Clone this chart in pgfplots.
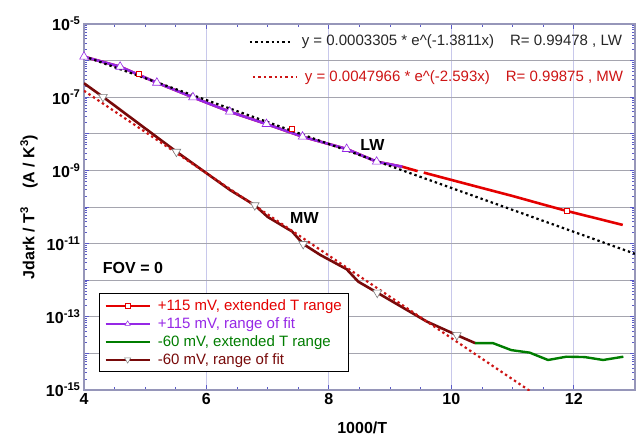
\documentclass[border=0pt]{standalone}
\usepackage{fontspec}
\setmainfont{Liberation Sans}
\usepackage{pgfplots}
\pgfplotsset{compat=1.18}

\definecolor{cred}{RGB}{228,0,0}
\definecolor{cpurple}{RGB}{150,40,230}
\definecolor{cgreen}{RGB}{0,125,0}
\definecolor{cmaroon}{RGB}{120,10,10}
\definecolor{cfitred}{RGB}{205,20,20}
\definecolor{cgridx}{RGB}{200,200,235}
\definecolor{cgridy}{RGB}{165,165,175}
\definecolor{ctick}{RGB}{90,90,200}
\definecolor{cframe}{RGB}{150,150,185}

% +115 mV, full temperature range (line)
\pgfplotstableread{
x y
4.00 1.28e-6
4.59 6.81e-7
5.19 2.49e-7
5.78 9.93e-8
6.38 4.02e-8
6.98 1.85e-8
7.57 8.34e-9
8.29 3.85e-9
8.78 1.73e-9
9.20 1.26e-9
9.45 9.55e-10
}\redA
\pgfplotstableread{
x y
9.55 8.71e-10
10.0 5.50e-10
10.5 3.31e-10
11.0 2.00e-10
11.5 1.17e-10
11.89 7.76e-11
12.3 5.25e-11
12.8 3.24e-11
}\redB
\pgfplotstableread{
x y
4.89 4.27e-7
7.40 1.35e-8
11.89 7.76e-11
}\redmarks
% +115 mV, range of fit
\pgfplotstableread{
x y
4.00 1.28e-6
4.59 6.81e-7
5.19 2.49e-7
5.78 9.93e-8
6.38 4.02e-8
6.98 1.85e-8
7.57 8.34e-9
8.29 3.85e-9
8.78 1.73e-9
9.20 1.26e-9
}\purple
\pgfplotstableread{
x y
4.00 1.28e-6
4.59 6.81e-7
5.19 2.49e-7
5.78 9.93e-8
6.38 4.02e-8
6.98 1.85e-8
7.57 8.34e-9
8.29 3.85e-9
8.78 1.73e-9
}\purplemarks
% -60 mV, range of fit
\pgfplotstableread{
x y
4.00 2.40e-7
4.31 1.02e-7
5.51 3.24e-9
6.39 2.88e-10
6.79 1.12e-10
7.00 5.37e-11
7.40 2.14e-11
7.58 9.77e-12
7.86 4.90e-12
8.29 2.00e-12
8.48 9.12e-13
8.79 4.57e-13
9.60 7.41e-14
10.09 3.16e-14
10.39 1.91e-14
}\maroon
\pgfplotstableread{
x y
4.31 1.02e-7
5.51 3.24e-9
6.79 1.12e-10
7.58 9.77e-12
8.79 4.57e-13
10.09 3.16e-14
}\maroonmarks
% -60 mV, extended T range
\pgfplotstableread{
x y
10.39 1.91e-14
10.68 1.91e-14
10.98 1.23e-14
11.28 1.05e-14
11.58 6.61e-15
11.88 8.13e-15
12.18 7.94e-15
12.48 6.61e-15
12.81 8.13e-15
}\green

\begin{document}
\begin{tikzpicture}
\path[use as bounding box] (-84pt,-50pt) rectangle (557pt,390pt);
\begin{axis}[
  scale only axis, width=551pt, height=366pt,
  at={(0,0)}, anchor=south west,
  xmin=4, xmax=13,
  ymode=log, ymin=1e-15, ymax=1e-5,
  xtick={4,6,8,10,12},
  xticklabels={\textbf{4},\textbf{6},\textbf{8},\textbf{10},\textbf{12}},
  minor x tick num=3,
  ytick={1e-15,1e-14,1e-13,1e-12,1e-11,1e-10,1e-9,1e-8,1e-7,1e-6,1e-5},
  yticklabels={\textbf{10\textsuperscript{-15}},,\textbf{10\textsuperscript{-13}},,\textbf{10\textsuperscript{-11}},,\textbf{10\textsuperscript{-9}},,\textbf{10\textsuperscript{-7}},,\textbf{10\textsuperscript{-5}}},
  minor ytick={2e-15,3e-15,4e-15,5e-15,6e-15,7e-15,8e-15,9e-15,
    2e-14,3e-14,4e-14,5e-14,6e-14,7e-14,8e-14,9e-14,
    2e-13,3e-13,4e-13,5e-13,6e-13,7e-13,8e-13,9e-13,
    2e-12,3e-12,4e-12,5e-12,6e-12,7e-12,8e-12,9e-12,
    2e-11,3e-11,4e-11,5e-11,6e-11,7e-11,8e-11,9e-11,
    2e-10,3e-10,4e-10,5e-10,6e-10,7e-10,8e-10,9e-10,
    2e-9,3e-9,4e-9,5e-9,6e-9,7e-9,8e-9,9e-9,
    2e-8,3e-8,4e-8,5e-8,6e-8,7e-8,8e-8,9e-8,
    2e-7,3e-7,4e-7,5e-7,6e-7,7e-7,8e-7,9e-7,
    2e-6,3e-6,4e-6,5e-6,6e-6,7e-6,8e-6,9e-6},
  ticklabel style={font=\fontsize{16}{18}\selectfont},
  tick align=inside,
  major tick length=5pt, minor tick length=3pt,
  every tick/.style={ctick, line width=0.8pt},
  xmajorgrids, ymajorgrids,
  major x grid style={cgridx, line width=0.8pt},
  major y grid style={cgridy, line width=0.8pt},
  axis line style={cframe, line width=1.2pt},
  xlabel={\textbf{1000/T}},
  ylabel={\textbf{Jdark / T\textsuperscript{3}\hspace{18pt}(A / K\textsuperscript{3})}},
  every axis x label/.style={at={(axis description cs:0.505,-0.104)}, anchor=center,
    font=\fontsize{16}{18}\selectfont},
  every axis y label/.style={at={(axis description cs:-0.1,0.5)}, anchor=center, rotate=90,
    font=\fontsize{16}{18}\selectfont},
  legend style={at={(axis description cs:0.027,0.265)}, anchor=north west,
    draw=black, line width=1.2pt, fill=white,
    font=\fontsize{15}{17}\selectfont, row sep=1.6pt, inner xsep=5pt, inner ysep=4pt},
  legend cell align=left,
  legend image code/.code={\draw[#1, mark repeat=2, mark phase=2] plot coordinates {(0pt,0pt)(22pt,0pt)(44pt,0pt)};
    \path (49pt,0pt);},
]
% measured curves
\addplot[cred, line width=2.6pt, forget plot] table {\redA};
\addplot[cred, line width=2.6pt, forget plot] table {\redB};
\addplot[cpurple, line width=2.6pt, forget plot] table {\purple};
\addplot[cmaroon, line width=2.6pt, forget plot] table {\maroon};
\addplot[cgreen, line width=2.4pt, forget plot] table {\green};

% exponential fits
\addplot[black, line width=2.2pt, dash pattern=on 2.4pt off 3pt, forget plot] coordinates {(4,1.318e-6) (13,5.27e-12)};
\addplot[cfitred, line width=2.2pt, dash pattern=on 2.4pt off 3pt, forget plot] coordinates {(4,1.501e-7) (11.5,5.378e-16)};

% markers
\addplot[only marks, mark=square*, mark size=2.6pt, mark options={fill=white, draw=cred, line width=0.6pt}, forget plot] table {\redmarks};
\addplot[only marks, mark=triangle*, mark size=5pt, mark options={fill=white, draw=cpurple, line width=0.6pt}, forget plot] table {\purplemarks};
\addplot[only marks, mark=triangle*, mark size=5pt, mark options={fill=white, draw=gray, line width=0.6pt, rotate=180}, forget plot] table {\maroonmarks};

% legend entries
\addlegendimage{cred, line width=2.4pt, mark=square*, mark size=2.2pt, mark options={fill=white, draw=cred, line width=0.5pt}}
\addlegendentry{\textcolor{cred}{+115 mV, extended T range}}
\addlegendimage{cpurple, line width=2.4pt, mark=triangle*, mark size=3pt, mark options={fill=white, draw=cpurple, line width=0.5pt}}
\addlegendentry{\textcolor{cpurple}{+115 mV, range of fit}}
\addlegendimage{cgreen, line width=2.4pt}
\addlegendentry{\textcolor{cgreen}{-60 mV, extended T range}}
\addlegendimage{cmaroon, line width=2.4pt, mark=triangle*, mark size=3.5pt, mark options={fill=white, draw=gray, line width=0.5pt, rotate=180}}
\addlegendentry{\textcolor{cmaroon}{-60 mV, range of fit}}

% fit equations
\draw[black, line width=2.2pt, dash pattern=on 2.4pt off 3pt] (axis cs:6.71,3.2e-6) -- (axis cs:7.36,3.2e-6);
\node[anchor=west, font=\fontsize{15}{17}\selectfont, text=black!85] at (axis cs:7.5,3.2e-6)
  {y = 0.0003305 * e\^{}(-1.3811x)\hspace{16pt}R= 0.99478 , LW};
\draw[cfitred, line width=2.2pt, dash pattern=on 2.4pt off 3pt] (axis cs:6.76,3.5e-7) -- (axis cs:7.48,3.5e-7);
\node[anchor=west, font=\fontsize{15}{17}\selectfont, text=cfitred] at (axis cs:7.55,3.5e-7)
  {y = 0.0047966 * e\^{}(-2.593x)\hspace{16pt}R= 0.99875 , MW};

% curve labels
\node[font=\bfseries\fontsize{16}{18}\selectfont] at (axis cs:8.71,4.9e-9) {LW};
\node[font=\bfseries\fontsize{16}{18}\selectfont] at (axis cs:7.6,5e-11) {MW};
\node[font=\bfseries\fontsize{16}{18}\selectfont] at (axis cs:4.8,2.1e-12) {FOV = 0};
\end{axis}
\end{tikzpicture}
\end{document}
